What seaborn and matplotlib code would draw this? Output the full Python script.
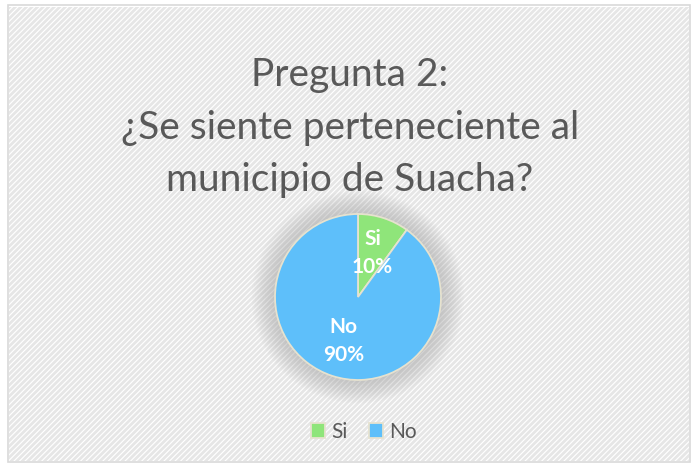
import matplotlib
matplotlib.use("Agg")
import matplotlib.pyplot as plt
import seaborn as sns
from matplotlib.patches import Rectangle, Circle

categories = ["Si", "No"]
values = [10, 90]
colors = ["#8FE57A", "#5EBFFA"]
title_lines = ["Pregunta 2:", "¿Se siente perteneciente al", "municipio de Suacha?"]

sns.set_theme(style="white")
plt.rcParams['font.family'] = ['Lato', 'DejaVu Sans']
plt.rcParams['hatch.linewidth'] = 2.0

fig = plt.figure(figsize=(6.95, 4.67), dpi=100)
fig.patch.set_facecolor("white")

# background frame with hatch
bg = Rectangle((8/695, 1-462/467), (690-8)/695, (462-5)/467, transform=fig.transFigure,
               facecolor="white", edgecolor="#D9D9D9", linewidth=1.2, zorder=0)
fig.add_artist(bg)
hat = Rectangle((9/695, 1-461/467), (689-9)/695, (460-6)/467, transform=fig.transFigure,
                facecolor="none", edgecolor="#E6E6E6", hatch="//////", linewidth=0, zorder=0)
fig.add_artist(hat)

# title
ys = [75, 128, 180]
for line, y in zip(title_lines, ys):
    fig.text(350/695, 1-y/467, line, ha="center", va="center", fontsize=28, color="#595959")

cx, cy = 358/695, 1-297/467
w, h = 166/695, 166/467
ax = fig.add_axes([cx - w/2, cy - h/2, w, h])
ax.set_aspect("equal")

# soft shadow
for i in range(14):
    r = 1.0 + 0.02*(14-i)
    ax.add_patch(Circle((0, 0), r, facecolor="#9A9A9A", alpha=0.035, edgecolor="none", zorder=0))

names = iter(categories)
wedges, texts, autotexts = ax.pie(values, colors=colors, startangle=90, counterclock=False,
       autopct=lambda p: f"{next(names)}\n{p:.0f}%", pctdistance=0.56,
       wedgeprops=dict(edgecolor="#E6E2CF", linewidth=1.3),
       textprops=dict(color="white", fontsize=15, fontweight="bold", linespacing=1.5))
for w_ in wedges:
    w_.set_zorder(2)
ax.set_xlim(-1.35, 1.35)
ax.set_ylim(-1.35, 1.35)
ax.set_position([cx - w/2*1.35, cy - h/2*1.35, w*1.35, h*1.35])
ax.axis("off")

leg = fig.legend(wedges, categories, loc="center", bbox_to_anchor=(364/695, 1-432/467),
                 ncol=2, frameon=False, fontsize=15, handlelength=0.7, handleheight=0.7,
                 handletextpad=0.3, columnspacing=1.0, labelcolor="#595959")
for h_ in leg.legend_handles:
    h_.set_edgecolor("#E6E2CF")

fig.savefig("out.png", dpi=100)
